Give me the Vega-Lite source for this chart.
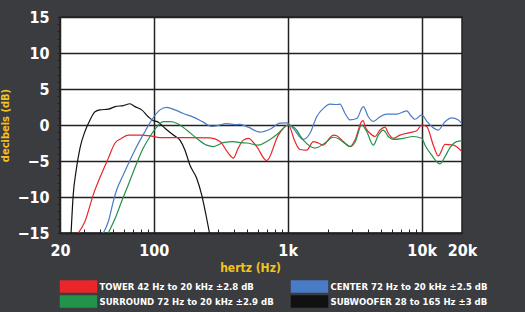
{
  "$schema": "https://vega.github.io/schema/vega-lite/v6.json",
  "autosize": {"type": "none"},
  "width": 402,
  "height": 216,
  "padding": {"left": 60, "top": 17, "right": 63, "bottom": 79},
  "background": "#3a3c40",
  "config": {
    "view": {"fill": "white", "stroke": "#222222", "strokeWidth": 1.5},
    "font": "DejaVu Sans Condensed, DejaVu Sans, sans-serif"
  },
  "datasets": {
    "curves": [
      {"s": "SUBWOOFER 28 to 165 Hz ±3 dB", "f": 24.2, "db": -15},
      {"s": "SUBWOOFER 28 to 165 Hz ±3 dB", "f": 25.1, "db": -9.7},
      {"s": "SUBWOOFER 28 to 165 Hz ±3 dB", "f": 26.3, "db": -6.5},
      {"s": "SUBWOOFER 28 to 165 Hz ±3 dB", "f": 28.2, "db": -3.2},
      {"s": "SUBWOOFER 28 to 165 Hz ±3 dB", "f": 30.7, "db": -0.9},
      {"s": "SUBWOOFER 28 to 165 Hz ±3 dB", "f": 33.5, "db": 0.7},
      {"s": "SUBWOOFER 28 to 165 Hz ±3 dB", "f": 36.5, "db": 1.85},
      {"s": "SUBWOOFER 28 to 165 Hz ±3 dB", "f": 39.8, "db": 2.1},
      {"s": "SUBWOOFER 28 to 165 Hz ±3 dB", "f": 45.9, "db": 2.2},
      {"s": "SUBWOOFER 28 to 165 Hz ±3 dB", "f": 51.5, "db": 2.55},
      {"s": "SUBWOOFER 28 to 165 Hz ±3 dB", "f": 59.4, "db": 2.7},
      {"s": "SUBWOOFER 28 to 165 Hz ±3 dB", "f": 66.6, "db": 2.95},
      {"s": "SUBWOOFER 28 to 165 Hz ±3 dB", "f": 72.6, "db": 2.55},
      {"s": "SUBWOOFER 28 to 165 Hz ±3 dB", "f": 81.4, "db": 2.1},
      {"s": "SUBWOOFER 28 to 165 Hz ±3 dB", "f": 91.2, "db": 1.15},
      {"s": "SUBWOOFER 28 to 165 Hz ±3 dB", "f": 99.4, "db": 0.6},
      {"s": "SUBWOOFER 28 to 165 Hz ±3 dB", "f": 105.4, "db": 0.5},
      {"s": "SUBWOOFER 28 to 165 Hz ±3 dB", "f": 121.5, "db": -0.46},
      {"s": "SUBWOOFER 28 to 165 Hz ±3 dB", "f": 140.2, "db": -1.4},
      {"s": "SUBWOOFER 28 to 165 Hz ±3 dB", "f": 157.2, "db": -2.1},
      {"s": "SUBWOOFER 28 to 165 Hz ±3 dB", "f": 171.3, "db": -3.5},
      {"s": "SUBWOOFER 28 to 165 Hz ±3 dB", "f": 186.7, "db": -5.6},
      {"s": "SUBWOOFER 28 to 165 Hz ±3 dB", "f": 209.4, "db": -7.4},
      {"s": "SUBWOOFER 28 to 165 Hz ±3 dB", "f": 228.2, "db": -9.7},
      {"s": "SUBWOOFER 28 to 165 Hz ±3 dB", "f": 245.8, "db": -12.5},
      {"s": "SUBWOOFER 28 to 165 Hz ±3 dB", "f": 261, "db": -15},

      {"s": "TOWER 42 Hz to 20 kHz ±2.8 dB", "f": 27.4, "db": -15},
      {"s": "TOWER 42 Hz to 20 kHz ±2.8 dB", "f": 30.7, "db": -13.4},
      {"s": "TOWER 42 Hz to 20 kHz ±2.8 dB", "f": 35.4, "db": -9.7},
      {"s": "TOWER 42 Hz to 20 kHz ±2.8 dB", "f": 41, "db": -6.7},
      {"s": "TOWER 42 Hz to 20 kHz ±2.8 dB", "f": 45.9, "db": -4.6},
      {"s": "TOWER 42 Hz to 20 kHz ±2.8 dB", "f": 51.5, "db": -2.5},
      {"s": "TOWER 42 Hz to 20 kHz ±2.8 dB", "f": 57.7, "db": -1.85},
      {"s": "TOWER 42 Hz to 20 kHz ±2.8 dB", "f": 64.7, "db": -1.4},
      {"s": "TOWER 42 Hz to 20 kHz ±2.8 dB", "f": 79.1, "db": -1.4},
      {"s": "TOWER 42 Hz to 20 kHz ±2.8 dB", "f": 93.9, "db": -1.5},
      {"s": "TOWER 42 Hz to 20 kHz ±2.8 dB", "f": 111.5, "db": -1.75},
      {"s": "TOWER 42 Hz to 20 kHz ±2.8 dB", "f": 166.4, "db": -1.75},
      {"s": "TOWER 42 Hz to 20 kHz ±2.8 dB", "f": 263, "db": -1.8},
      {"s": "TOWER 42 Hz to 20 kHz ±2.8 dB", "f": 312.6, "db": -2.3},
      {"s": "TOWER 42 Hz to 20 kHz ±2.8 dB", "f": 360.6, "db": -3.9},
      {"s": "TOWER 42 Hz to 20 kHz ±2.8 dB", "f": 392.9, "db": -4.6},
      {"s": "TOWER 42 Hz to 20 kHz ±2.8 dB", "f": 428, "db": -3.2},
      {"s": "TOWER 42 Hz to 20 kHz ±2.8 dB", "f": 466.6, "db": -2.1},
      {"s": "TOWER 42 Hz to 20 kHz ±2.8 dB", "f": 508.7, "db": -1.85},
      {"s": "TOWER 42 Hz to 20 kHz ±2.8 dB", "f": 587.5, "db": -3.0},
      {"s": "TOWER 42 Hz to 20 kHz ±2.8 dB", "f": 697.4, "db": -4.95},
      {"s": "TOWER 42 Hz to 20 kHz ±2.8 dB", "f": 851.6, "db": -1.4},
      {"s": "TOWER 42 Hz to 20 kHz ±2.8 dB", "f": 1011, "db": 0},
      {"s": "TOWER 42 Hz to 20 kHz ±2.8 dB", "f": 1134, "db": -2.3},
      {"s": "TOWER 42 Hz to 20 kHz ±2.8 dB", "f": 1236, "db": -3.4},
      {"s": "TOWER 42 Hz to 20 kHz ±2.8 dB", "f": 1387, "db": -3.5},
      {"s": "TOWER 42 Hz to 20 kHz ±2.8 dB", "f": 1554, "db": -2.3},
      {"s": "TOWER 42 Hz to 20 kHz ±2.8 dB", "f": 1693, "db": -2.5},
      {"s": "TOWER 42 Hz to 20 kHz ±2.8 dB", "f": 1844, "db": -2.8},
      {"s": "TOWER 42 Hz to 20 kHz ±2.8 dB", "f": 2070, "db": -1.75},
      {"s": "TOWER 42 Hz to 20 kHz ±2.8 dB", "f": 2190, "db": -1.4},
      {"s": "TOWER 42 Hz to 20 kHz ±2.8 dB", "f": 2322, "db": -1.5},
      {"s": "TOWER 42 Hz to 20 kHz ±2.8 dB", "f": 2602, "db": -2.3},
      {"s": "TOWER 42 Hz to 20 kHz ±2.8 dB", "f": 2920, "db": -3.0},
      {"s": "TOWER 42 Hz to 20 kHz ±2.8 dB", "f": 3180, "db": -2.1},
      {"s": "TOWER 42 Hz to 20 kHz ±2.8 dB", "f": 3569, "db": 0.5},
      {"s": "TOWER 42 Hz to 20 kHz ±2.8 dB", "f": 3668, "db": 0.6},
      {"s": "TOWER 42 Hz to 20 kHz ±2.8 dB", "f": 3776, "db": -0.2},
      {"s": "TOWER 42 Hz to 20 kHz ±2.8 dB", "f": 4115, "db": -1.15},
      {"s": "TOWER 42 Hz to 20 kHz ±2.8 dB", "f": 4484, "db": -1.6},
      {"s": "TOWER 42 Hz to 20 kHz ±2.8 dB", "f": 4888, "db": -0.7},
      {"s": "TOWER 42 Hz to 20 kHz ±2.8 dB", "f": 5326, "db": -0.3},
      {"s": "TOWER 42 Hz to 20 kHz ±2.8 dB", "f": 5637, "db": -1.15},
      {"s": "TOWER 42 Hz to 20 kHz ±2.8 dB", "f": 6142, "db": -1.85},
      {"s": "TOWER 42 Hz to 20 kHz ±2.8 dB", "f": 6889, "db": -1.4},
      {"s": "TOWER 42 Hz to 20 kHz ±2.8 dB", "f": 8183, "db": -1.05},
      {"s": "TOWER 42 Hz to 20 kHz ±2.8 dB", "f": 9184, "db": -0.8},
      {"s": "TOWER 42 Hz to 20 kHz ±2.8 dB", "f": 10010, "db": 0},
      {"s": "TOWER 42 Hz to 20 kHz ±2.8 dB", "f": 10907, "db": -0.2},
      {"s": "TOWER 42 Hz to 20 kHz ±2.8 dB", "f": 12213, "db": -2.8},
      {"s": "TOWER 42 Hz to 20 kHz ±2.8 dB", "f": 13312, "db": -4.3},
      {"s": "TOWER 42 Hz to 20 kHz ±2.8 dB", "f": 14935, "db": -2.7},
      {"s": "TOWER 42 Hz to 20 kHz ±2.8 dB", "f": 17224, "db": -2.8},
      {"s": "TOWER 42 Hz to 20 kHz ±2.8 dB", "f": 20000, "db": -3.7},

      {"s": "CENTER 72 Hz to 20 kHz ±2.5 dB", "f": 42.1, "db": -15},
      {"s": "CENTER 72 Hz to 20 kHz ±2.5 dB", "f": 45.9, "db": -13.4},
      {"s": "CENTER 72 Hz to 20 kHz ±2.5 dB", "f": 50, "db": -10.6},
      {"s": "CENTER 72 Hz to 20 kHz ±2.5 dB", "f": 53, "db": -9.0},
      {"s": "CENTER 72 Hz to 20 kHz ±2.5 dB", "f": 59.4, "db": -6.9},
      {"s": "CENTER 72 Hz to 20 kHz ±2.5 dB", "f": 66.6, "db": -4.9},
      {"s": "CENTER 72 Hz to 20 kHz ±2.5 dB", "f": 74.7, "db": -3.0},
      {"s": "CENTER 72 Hz to 20 kHz ±2.5 dB", "f": 86.2, "db": -0.9},
      {"s": "CENTER 72 Hz to 20 kHz ±2.5 dB", "f": 96.7, "db": 0.7},
      {"s": "CENTER 72 Hz to 20 kHz ±2.5 dB", "f": 111.5, "db": 2.1},
      {"s": "CENTER 72 Hz to 20 kHz ±2.5 dB", "f": 125.1, "db": 2.45},
      {"s": "CENTER 72 Hz to 20 kHz ±2.5 dB", "f": 144.3, "db": 2.1},
      {"s": "CENTER 72 Hz to 20 kHz ±2.5 dB", "f": 166.4, "db": 1.6},
      {"s": "CENTER 72 Hz to 20 kHz ±2.5 dB", "f": 197.6, "db": 1.1},
      {"s": "CENTER 72 Hz to 20 kHz ±2.5 dB", "f": 234.6, "db": 0.4},
      {"s": "CENTER 72 Hz to 20 kHz ±2.5 dB", "f": 271, "db": -0.2},
      {"s": "CENTER 72 Hz to 20 kHz ±2.5 dB", "f": 295.4, "db": -0.1},
      {"s": "CENTER 72 Hz to 20 kHz ±2.5 dB", "f": 350.8, "db": 0.2},
      {"s": "CENTER 72 Hz to 20 kHz ±2.5 dB", "f": 416.6, "db": 0.05},
      {"s": "CENTER 72 Hz to 20 kHz ±2.5 dB", "f": 440.8, "db": 0.1},
      {"s": "CENTER 72 Hz to 20 kHz ±2.5 dB", "f": 508.7, "db": -0.3},
      {"s": "CENTER 72 Hz to 20 kHz ±2.5 dB", "f": 621.8, "db": -1.0},
      {"s": "CENTER 72 Hz to 20 kHz ±2.5 dB", "f": 738.2, "db": -0.6},
      {"s": "CENTER 72 Hz to 20 kHz ±2.5 dB", "f": 876.7, "db": 0.25},
      {"s": "CENTER 72 Hz to 20 kHz ±2.5 dB", "f": 983.8, "db": 0.3},
      {"s": "CENTER 72 Hz to 20 kHz ±2.5 dB", "f": 1102, "db": -0.5},
      {"s": "CENTER 72 Hz to 20 kHz ±2.5 dB", "f": 1308, "db": -2.0},
      {"s": "CENTER 72 Hz to 20 kHz ±2.5 dB", "f": 1468, "db": -1.15},
      {"s": "CENTER 72 Hz to 20 kHz ±2.5 dB", "f": 1647, "db": 1.15},
      {"s": "CENTER 72 Hz to 20 kHz ±2.5 dB", "f": 1844, "db": 2.3},
      {"s": "CENTER 72 Hz to 20 kHz ±2.5 dB", "f": 2070, "db": 2.9},
      {"s": "CENTER 72 Hz to 20 kHz ±2.5 dB", "f": 2322, "db": 2.85},
      {"s": "CENTER 72 Hz to 20 kHz ±2.5 dB", "f": 2458, "db": 2.9},
      {"s": "CENTER 72 Hz to 20 kHz ±2.5 dB", "f": 2680, "db": 1.6},
      {"s": "CENTER 72 Hz to 20 kHz ±2.5 dB", "f": 2920, "db": 0.7},
      {"s": "CENTER 72 Hz to 20 kHz ±2.5 dB", "f": 3276, "db": 0.9},
      {"s": "CENTER 72 Hz to 20 kHz ±2.5 dB", "f": 3668, "db": 2.55},
      {"s": "CENTER 72 Hz to 20 kHz ±2.5 dB", "f": 3996, "db": 1.15},
      {"s": "CENTER 72 Hz to 20 kHz ±2.5 dB", "f": 4356, "db": 0.5},
      {"s": "CENTER 72 Hz to 20 kHz ±2.5 dB", "f": 4888, "db": 1.15},
      {"s": "CENTER 72 Hz to 20 kHz ±2.5 dB", "f": 5484, "db": 1.5},
      {"s": "CENTER 72 Hz to 20 kHz ±2.5 dB", "f": 6511, "db": 1.5},
      {"s": "CENTER 72 Hz to 20 kHz ±2.5 dB", "f": 7729, "db": 1.95},
      {"s": "CENTER 72 Hz to 20 kHz ±2.5 dB", "f": 8425, "db": 1.15},
      {"s": "CENTER 72 Hz to 20 kHz ±2.5 dB", "f": 8920, "db": 0.8},
      {"s": "CENTER 72 Hz to 20 kHz ±2.5 dB", "f": 10010, "db": 1.4},
      {"s": "CENTER 72 Hz to 20 kHz ±2.5 dB", "f": 10907, "db": 0.55},
      {"s": "CENTER 72 Hz to 20 kHz ±2.5 dB", "f": 11883, "db": -0.2},
      {"s": "CENTER 72 Hz to 20 kHz ±2.5 dB", "f": 13312, "db": -0.7},
      {"s": "CENTER 72 Hz to 20 kHz ±2.5 dB", "f": 14935, "db": 0.46},
      {"s": "CENTER 72 Hz to 20 kHz ±2.5 dB", "f": 16756, "db": 1.0},
      {"s": "CENTER 72 Hz to 20 kHz ±2.5 dB", "f": 18770, "db": 0.7},
      {"s": "CENTER 72 Hz to 20 kHz ±2.5 dB", "f": 20000, "db": 0.15},

      {"s": "SURROUND 72 Hz to 20 kHz ±2.9 dB", "f": 45.9, "db": -15},
      {"s": "SURROUND 72 Hz to 20 kHz ±2.9 dB", "f": 51.5, "db": -13.0},
      {"s": "SURROUND 72 Hz to 20 kHz ±2.9 dB", "f": 57.7, "db": -10.6},
      {"s": "SURROUND 72 Hz to 20 kHz ±2.9 dB", "f": 64.7, "db": -8.3},
      {"s": "SURROUND 72 Hz to 20 kHz ±2.9 dB", "f": 74.7, "db": -5.3},
      {"s": "SURROUND 72 Hz to 20 kHz ±2.9 dB", "f": 83.7, "db": -3.2},
      {"s": "SURROUND 72 Hz to 20 kHz ±2.9 dB", "f": 93.9, "db": -1.6},
      {"s": "SURROUND 72 Hz to 20 kHz ±2.9 dB", "f": 105.4, "db": -0.3},
      {"s": "SURROUND 72 Hz to 20 kHz ±2.9 dB", "f": 118, "db": 0.46},
      {"s": "SURROUND 72 Hz to 20 kHz ±2.9 dB", "f": 132.4, "db": 0.46},
      {"s": "SURROUND 72 Hz to 20 kHz ±2.9 dB", "f": 148.6, "db": 0.25},
      {"s": "SURROUND 72 Hz to 20 kHz ±2.9 dB", "f": 176.4, "db": -0.7},
      {"s": "SURROUND 72 Hz to 20 kHz ±2.9 dB", "f": 209.4, "db": -1.85},
      {"s": "SURROUND 72 Hz to 20 kHz ±2.9 dB", "f": 248.8, "db": -2.8},
      {"s": "SURROUND 72 Hz to 20 kHz ±2.9 dB", "f": 278.6, "db": -3.0},
      {"s": "SURROUND 72 Hz to 20 kHz ±2.9 dB", "f": 331, "db": -2.45},
      {"s": "SURROUND 72 Hz to 20 kHz ±2.9 dB", "f": 392.9, "db": -2.3},
      {"s": "SURROUND 72 Hz to 20 kHz ±2.9 dB", "f": 440.8, "db": -2.45},
      {"s": "SURROUND 72 Hz to 20 kHz ±2.9 dB", "f": 494.8, "db": -2.5},
      {"s": "SURROUND 72 Hz to 20 kHz ±2.9 dB", "f": 604, "db": -2.8},
      {"s": "SURROUND 72 Hz to 20 kHz ±2.9 dB", "f": 697.4, "db": -2.3},
      {"s": "SURROUND 72 Hz to 20 kHz ±2.9 dB", "f": 851.6, "db": -1.15},
      {"s": "SURROUND 72 Hz to 20 kHz ±2.9 dB", "f": 1011, "db": 0},
      {"s": "SURROUND 72 Hz to 20 kHz ±2.9 dB", "f": 1134, "db": -0.46},
      {"s": "SURROUND 72 Hz to 20 kHz ±2.9 dB", "f": 1308, "db": -2.1},
      {"s": "SURROUND 72 Hz to 20 kHz ±2.9 dB", "f": 1600, "db": -3.2},
      {"s": "SURROUND 72 Hz to 20 kHz ±2.9 dB", "f": 1899, "db": -2.5},
      {"s": "SURROUND 72 Hz to 20 kHz ±2.9 dB", "f": 2190, "db": -1.7},
      {"s": "SURROUND 72 Hz to 20 kHz ±2.9 dB", "f": 2400, "db": -1.9},
      {"s": "SURROUND 72 Hz to 20 kHz ±2.9 dB", "f": 2700, "db": -2.6},
      {"s": "SURROUND 72 Hz to 20 kHz ±2.9 dB", "f": 2950, "db": -3.0},
      {"s": "SURROUND 72 Hz to 20 kHz ±2.9 dB", "f": 3180, "db": -2.4},
      {"s": "SURROUND 72 Hz to 20 kHz ±2.9 dB", "f": 3569, "db": 0},
      {"s": "SURROUND 72 Hz to 20 kHz ±2.9 dB", "f": 3889, "db": -0.9},
      {"s": "SURROUND 72 Hz to 20 kHz ±2.9 dB", "f": 4356, "db": -2.8},
      {"s": "SURROUND 72 Hz to 20 kHz ±2.9 dB", "f": 4747, "db": -1.4},
      {"s": "SURROUND 72 Hz to 20 kHz ±2.9 dB", "f": 5173, "db": -0.7},
      {"s": "SURROUND 72 Hz to 20 kHz ±2.9 dB", "f": 5637, "db": -1.6},
      {"s": "SURROUND 72 Hz to 20 kHz ±2.9 dB", "f": 6142, "db": -2.0},
      {"s": "SURROUND 72 Hz to 20 kHz ±2.9 dB", "f": 7292, "db": -1.85},
      {"s": "SURROUND 72 Hz to 20 kHz ±2.9 dB", "f": 8664, "db": -1.6},
      {"s": "SURROUND 72 Hz to 20 kHz ±2.9 dB", "f": 10010, "db": -1.85},
      {"s": "SURROUND 72 Hz to 20 kHz ±2.9 dB", "f": 10594, "db": -2.8},
      {"s": "SURROUND 72 Hz to 20 kHz ±2.9 dB", "f": 11883, "db": -4.2},
      {"s": "SURROUND 72 Hz to 20 kHz ±2.9 dB", "f": 13707, "db": -5.4},
      {"s": "SURROUND 72 Hz to 20 kHz ±2.9 dB", "f": 14935, "db": -4.4},
      {"s": "SURROUND 72 Hz to 20 kHz ±2.9 dB", "f": 16275, "db": -3.15},
      {"s": "SURROUND 72 Hz to 20 kHz ±2.9 dB", "f": 18258, "db": -2.3},
      {"s": "SURROUND 72 Hz to 20 kHz ±2.9 dB", "f": 20000, "db": -2.2}
    ]
  },
  "data": {"name": "curves"},
  "mark": {"type": "line", "strokeWidth": 1.2, "clip": true, "interpolate": "monotone"},
  "encoding": {
    "x": {
      "field": "f",
      "type": "quantitative",
      "scale": {"type": "log", "domain": [20, 20000], "nice": false},
      "axis": {
        "title": "hertz (Hz)",
        "titleColor": "#f2c41c",
        "titleFont": "DejaVu Sans Condensed, DejaVu Sans, sans-serif",
        "titleFontSize": 12,
        "titleFontWeight": "bold",
        "titlePadding": 4,
        "titleX": 190,
        "values": [20, 30, 40, 50, 60, 70, 80, 90, 100, 200, 300, 400, 500, 600, 700, 800, 900, 1000, 2000, 3000, 4000, 5000, 6000, 7000, 8000, 9000, 10000, 20000],
        "labelExpr": "datum.value == 20 ? '20' : datum.value == 100 ? '100' : datum.value == 1000 ? '1k' : datum.value == 10000 ? '10k' : datum.value == 20000 ? '20k' : ''",
        "labelOverlap": false,
        "labelBound": false,
        "labelFlush": false,
        "labelColor": "white",
        "labelFont": "DejaVu Sans Condensed, DejaVu Sans, sans-serif",
        "labelFontSize": 16,
        "labelFontWeight": "bold",
        "labelPadding": 13,
        "tickSize": -4,
        "tickColor": "#222222",
        "domainColor": "#222222",
        "domainWidth": 1.5,
        "gridColor": "#222222",
        "gridWidth": 1.5,
        "gridOpacity": {"condition": {"test": "datum.value == 100 || datum.value == 1000 || datum.value == 10000", "value": 1}, "value": 0}
      }
    },
    "y": {
      "field": "db",
      "type": "quantitative",
      "scale": {"domain": [-15, 15], "nice": false},
      "axis": {
        "title": "decibels (dB)",
        "titleColor": "#f2c41c",
        "titleFont": "DejaVu Sans Condensed, DejaVu Sans, sans-serif",
        "titleFontSize": 11,
        "titleFontWeight": "bold",
        "titlePadding": 6,
        "values": [-15, -14, -13, -12, -11, -10, -9, -8, -7, -6, -5, -4, -3, -2, -1, 0, 1, 2, 3, 4, 5, 6, 7, 8, 9, 10, 11, 12, 13, 14, 15],
        "labelExpr": "datum.value % 5 === 0 ? datum.label : ''",
        "labelOverlap": false,
        "labelBound": false,
        "labelFlush": false,
        "labelColor": "white",
        "labelFont": "DejaVu Sans Condensed, DejaVu Sans, sans-serif",
        "labelFontSize": 16,
        "labelFontWeight": "bold",
        "labelPadding": 8,
        "tickSize": 3,
        "tickColor": "#222222",
        "domainColor": "#222222",
        "domainWidth": 1.5,
        "gridColor": "#222222",
        "gridWidth": 1.5,
        "gridOpacity": {"condition": {"test": "datum.value % 5 === 0", "value": 1}, "value": 0}
      }
    },
    "color": {
      "field": "s",
      "type": "nominal",
      "scale": {
        "domain": ["TOWER 42 Hz to 20 kHz ±2.8 dB", "SURROUND 72 Hz to 20 kHz ±2.9 dB", "CENTER 72 Hz to 20 kHz ±2.5 dB", "SUBWOOFER 28 to 165 Hz ±3 dB"],
        "range": ["#e8262b", "#23924a", "#4a7bc6", "#111111"]
      },
      "legend": {
        "title": null,
        "orient": "none",
        "legendX": 12,
        "legendY": 263,
        "columns": 2,
        "columnPadding": 14,
        "rowPadding": -3,
        "padding": 0,
        "symbolType": "M-3.27,-1H3.27V1H-3.27Z",
        "symbolSize": 121,
        "symbolStrokeWidth": 1.5,
        "symbolOpacity": 1,
        "labelOffset": 14.5,
        "labelColor": "white",
        "labelFont": "DejaVu Sans Condensed, DejaVu Sans, sans-serif",
        "labelFontSize": 9.5,
        "labelFontWeight": "bold",
        "labelLimit": 300,
        "encode": {
          "symbols": {
            "update": {
              "fill": {"scale": "color", "field": "value"},
              "fillOpacity": {"value": 1},
              "stroke": {"value": "#c8c8c8"},
              "strokeOpacity": {"value": 1},
              "strokeWidth": {"value": 1.5}
            }
          }
        }
      }
    }
  }
}
